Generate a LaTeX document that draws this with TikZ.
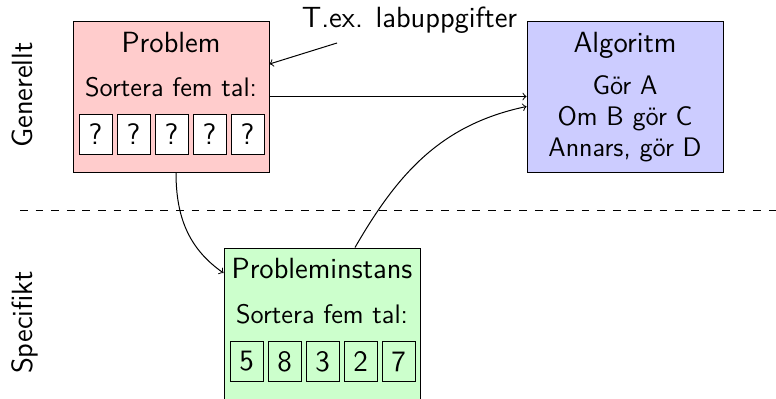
\documentclass[tikz,border=0pt]{standalone}
\renewcommand{\familydefault}{\sfdefault}
\begin{document}
\begin{tikzpicture}[x=0.5pt,y=0.5pt, line width=0.5pt,
  big/.style={font=\fontsize{14.6}{17}\selectfont},
  body/.style={font=\fontsize{13.4}{16}\selectfont},
  panel/.style={draw, minimum width=98pt, minimum height=75.5pt, inner sep=0pt},
  cell/.style={draw, minimum width=16.5pt, minimum height=20pt, inner sep=0pt, font=\fontsize{14.8}{17}\selectfont},
  conn/.style={->}]
\useasboundingbox (0,0) rectangle (776,398);
% panels
\node[panel, fill=red!20] (prob) at (171,301.5) {};
\node[panel, fill=blue!20] (alg) at (625,301.5) {};
\node[panel, fill=green!20] (inst) at (322,74.5) {};
% Problem content
\node[big, anchor=base] (probt) at (171,346) {Problem};
\node[body, anchor=base] (probs) at (171,302) {Sortera fem tal:};
\foreach \i/\x in {1/95.5,2/133.5,3/171.5,4/209.5,5/247.5}
  \node[cell, fill=white] (p\i) at (\x,264) {?};
% Algoritm content
\node[big, anchor=base] (algt) at (625,346) {Algoritm};
\node[body, anchor=base] (al1) at (625,304) {Gör A};
\node[body, anchor=base] (al2) at (625,273) {Om B gör C};
\node[body, anchor=base] (al3) at (625,242) {Annars, gör D};
% Probleminstans content
\node[big, anchor=base] (instt) at (322,120) {Probleminstans};
\node[body, anchor=base] (insts) at (322,75) {Sortera fem tal:};
\foreach \i/\x/\v in {1/246.5/5,2/284.5/8,3/322.5/3,4/360.5/2,5/398.5/7}
  \node[cell, fill=green!20] (n\i) at (\x,36.5) {\v};
% label
\node[big, anchor=base] (lbl) at (409.5,371) {T.ex. labuppgifter};
\coordinate (ls) at (337,355);
% side labels
\node[big, rotate=90, anchor=base] (gen) at (32,303) {Generellt};
\node[big, rotate=90, anchor=base] (spec) at (32,75.5) {Specifikt};
% dashed separator
\coordinate (dl) at (20,188);
\coordinate (dr) at (776,188);
\draw[dash pattern=on 3.9pt off 3.9pt] (dl) -- (dr);
% connectors
\draw[conn] (ls) -- ([shift={(0,32.5)}]prob.east);
\draw[conn] (prob.east) -- (alg.west);
\draw[conn] ([shift={(33,0)}]inst.north) to[out=60, in=192] ([shift={(0,-10)}]alg.west);
\draw[conn] ([shift={(5,0)}]prob.south) to[out=-90, in=145] ([shift={(0,50.5)}]inst.west);
\end{tikzpicture}
\end{document}
